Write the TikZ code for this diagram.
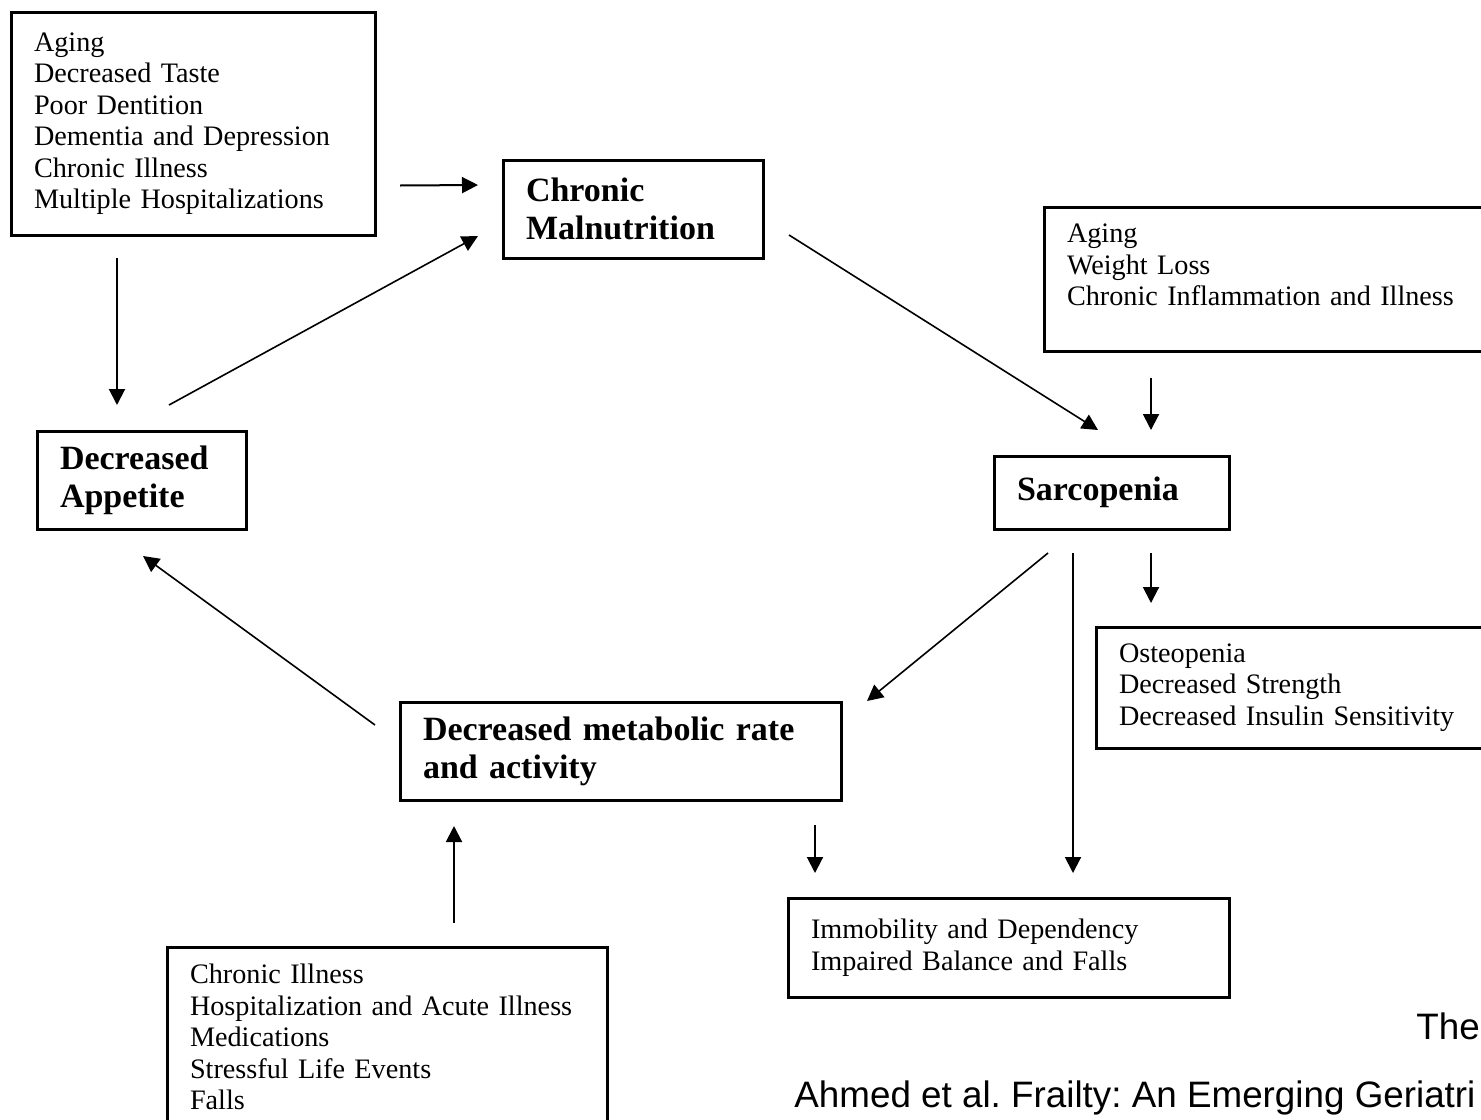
\documentclass[tikz,border=0pt]{standalone}
\usepackage{fontspec}
\setmainfont{Liberation Serif}
\newfontfamily\citefont{Liberation Sans}
\frenchspacing
\usetikzlibrary{arrows.meta}
\tikzset{>={Triangle[length=8pt,width=8pt]}}
\tikzstyle{factors}=[draw,line width=1.5pt,outer sep=0pt,anchor=north west,align=left,
                     inner xsep=11.5pt,font=\fontsize{14.1}{15.75}\selectfont]
\tikzstyle{stage}=[factors,font=\fontsize{17}{19}\selectfont\bfseries]
\tikzstyle{cite}=[anchor=base west,inner sep=0pt,font=\citefont\fontsize{18.4}{22}\selectfont]
\tikzstyle{link}=[->,line width=1pt]
\tikzstyle{slant}=[->,line width=0.8pt]

\begin{document}
\begin{tikzpicture}[x=0.5pt,y=-0.5pt]
  \useasboundingbox (0,0) rectangle (1481,1119);

  % the cycle
  \node[stage,text width=107pt,minimum height=49pt] (malnut) at (503,160)
    {Chronic\\Malnutrition};
  \node[stage,text width=94.5pt,minimum height=36.5pt] (sarco) at (994,456)
    {Sarcopenia};
  \node[stage,text width=197.5pt,minimum height=49pt] (metab) at (400,702)
    {Decreased metabolic rate\\and activity};
  \node[stage,text width=81.5pt,minimum height=49pt] (appetite) at (37,431)
    {Decreased\\Appetite};

  % causes and consequences
  \node[factors,text width=159pt,minimum height=111.5pt] (causesA) at (11,12)
    {Aging\\Decreased Taste\\Poor Dentition\\Dementia and Depression\\Chronic Illness\\Multiple Hospitalizations};
  \node[factors,text width=217pt,inner ysep=8.5pt,text depth=46pt] (causesB) at (1044,207)
    {Aging\\Weight Loss\\Chronic Inflammation and Illness};
  \node[factors,text width=187pt,minimum height=60.5pt] (effectsA) at (1096,627)
    {Osteopenia\\Decreased Strength\\Decreased Insulin Sensitivity};
  \node[factors,text width=197.5pt,minimum height=49.5pt] (effectsB) at (788,898)
    {Immobility and Dependency\\Impaired Balance and Falls};
  \node[factors,text width=197pt,inner ysep=8.5pt,text depth=80pt] (causesC) at (167,947)
    {Chronic Illness\\Hospitalization and Acute Illness\\Medications\\Stressful Life Events\\Falls};

  % source
  \node[cite] (citeA) at (1416,1039) {The};
  \node[cite] (citeB) at (794,1107) {Ahmed et al. Frailty: An Emerging Geriatri};

  \draw[link] ([shift={(25,62)}]causesA.east) -- ([shift={(-25,-24)}]malnut.west);
  \draw[link] ([shift={(106,23)}]causesA.south west) -- ([shift={(80,-26)}]appetite.north west);
  \draw[slant] ([shift={(27.5,-26)}]appetite.north) -- ([shift={(-25,-22)}]malnut.south west);
  \draw[slant] ([shift={(26,26)}]malnut.east) -- ([shift={(-13.5,-26)}]sarco.north);
  \draw[link] ([shift={(107,26)}]causesB.south west) -- ([shift={(39.5,-26)}]sarco.north);
  \draw[link] ([shift={(39.5,24)}]sarco.south) -- ([shift={(55,-24)}]effectsA.north west);
  \draw[slant] ([shift={(-63.5,24)}]sarco.south) -- ([shift={(26,-1)}]metab.north east);
  \draw[link] ([shift={(-38.5,24)}]sarco.south) -- ([shift={(64.5,-25)}]effectsB.north);
  \draw[link] ([shift={(-26,25)}]metab.south east) -- ([shift={(27,-25)}]effectsB.north west);
  \draw[slant] ([shift={(-25,23)}]metab.north west) -- ([shift={(1.5,27)}]appetite.south);
  \draw[link] ([shift={(287,-24)}]causesC.north west) -- ([shift={(54,26)}]metab.south west);

\end{tikzpicture}
\end{document}
